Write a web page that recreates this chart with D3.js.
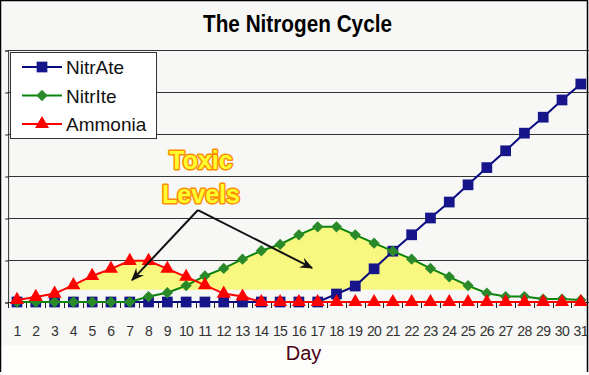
<!DOCTYPE html>
<html lang="en">

<head>
    <meta charset="UTF-8">
    <title>The Nitrogen Cycle</title>
    <script src="https://d3js.org/d3.v7.min.js"></script>
    <style>
        body { margin: 0; background: #fff; }
        text { font-family: Arial, "Liberation Sans", sans-serif; }
    </style>
</head>

<body>
    <script>
        var days = d3.range(1, 32);
        var nitrate = [0, 0, 0, 0, 0, 0, 0, 0, 0, 0, 0, 0, 0, 0, 0, 0, 0,
            0.19, 0.38, 0.79, 1.21, 1.6, 2.0, 2.38, 2.79, 3.2, 3.6, 4.02, 4.4, 4.81, 5.19];
        var nitrite = [0, 0, 0, 0, 0, 0, 0,
            0.13, 0.22, 0.39, 0.62, 0.8, 1.02, 1.22, 1.37, 1.6, 1.79, 1.79, 1.6, 1.4, 1.21,
            1.02, 0.8, 0.6, 0.39, 0.21, 0.13, 0.13, 0.07, 0.07, 0.05];
        var ammonia = [0.05, 0.12, 0.2, 0.4, 0.62, 0.79, 0.98, 0.98, 0.79, 0.6, 0.4, 0.2, 0.13,
            0, 0, 0, 0, 0, 0, 0, 0, 0, 0, 0, 0, 0, 0, 0, 0, 0, 0];
        var seriesNames = ["NitrAte", "NitrIte", "Ammonia"];
        var toxicLevel = 0.29;
        // annotation: label + arrows, in day / value units
        var noteStart = [10.63, 2.19];
        var noteTips = [[7.12, 0.52], [16.7, 0.81]];

        var width = 589, height = 375;
        var svg = d3.select("body").append("svg")
            .attr("width", width)
            .attr("height", height);

        var x = d3.scaleLinear().domain([0.5, 31.5]).range([7.6, 590.2]);
        var y = d3.scaleLinear().domain([0, 6]).range([302, 50]);

        svg.append("rect")
            .attr("x", 0).attr("y", 0)
            .attr("width", 588).attr("height", 345)
            .attr("fill", "#f7f8f5");
        svg.append("rect")
            .attr("x", 0).attr("y", 345)
            .attr("width", 588).attr("height", 30)
            .attr("fill", "#fdfdfc");
        svg.append("path")
            .attr("d", "M0.5,372V0.5H587.5V372")
            .attr("fill", "none")
            .attr("stroke", "#000")
            .attr("stroke-width", 1.5);

        svg.append("text")
            .attr("x", 297.5).attr("y", 31.5)
            .attr("text-anchor", "middle")
            .attr("font-size", 23)
            .attr("font-weight", "bold")
            .attr("textLength", 189)
            .attr("lengthAdjust", "spacingAndGlyphs")
            .text("The Nitrogen Cycle");

        // gridlines
        svg.append("g")
            .selectAll("line")
            .data(d3.range(1, 7))
            .join("line")
            .attr("x1", x(0.5)).attr("x2", width)
            .attr("y1", d => y(d) + 0.5).attr("y2", d => y(d) + 0.5)
            .attr("stroke", "#333")
            .attr("stroke-width", 1);

        // y axis
        svg.append("g")
            .attr("transform", "translate(" + (x(0.5) + 0.5) + ",0.5)")
            .call(d3.axisLeft(y).ticks(6).tickSize(3).tickFormat(""))
            .call(g => g.select(".domain").attr("stroke", "#333"))
            .call(g => g.selectAll(".tick line").attr("stroke", "#333"));

        // yellow toxic regions
        svg.append("clipPath").attr("id", "toxic")
            .append("rect")
            .attr("x", 0).attr("y", 0)
            .attr("width", width).attr("height", y(toxicLevel));
        var area = d3.area()
            .x((d, i) => x(days[i]))
            .y0(y(0))
            .y1(d => y(d));
        svg.append("g")
            .attr("clip-path", "url(#toxic)")
            .selectAll("path")
            .data([ammonia, nitrite])
            .join("path")
            .attr("d", area)
            .attr("fill", "#f8f880");

        // x axis
        svg.append("line")
            .attr("x1", x(0.5)).attr("x2", width)
            .attr("y1", y(0) + 0.5).attr("y2", y(0) + 0.5)
            .attr("stroke", "#222");
        svg.append("g")
            .selectAll("line")
            .data(d3.range(0.5, 32, 1))
            .join("line")
            .attr("x1", d => Math.round(x(d)) + 0.5).attr("x2", d => Math.round(x(d)) + 0.5)
            .attr("y1", y(0)).attr("y2", y(0) + 6)
            .attr("stroke", "#222");
        svg.append("g")
            .selectAll("text")
            .data(days)
            .join("text")
            .attr("x", d => x(d))
            .attr("y", 336)
            .attr("text-anchor", "middle")
            .attr("font-size", 14)
            .attr("letter-spacing", -0.6)
            .attr("fill", "#333")
            .text(d => d);
        svg.append("text")
            .attr("x", 303.5).attr("y", 360)
            .attr("text-anchor", "middle")
            .attr("font-size", 20)
            .attr("fill", "#4a0010")
            .text("Day");

        // square, diamond (rotated square), triangle
        var symbols = [d3.symbolSquare, d3.symbolSquare, d3.symbolTriangle];
        var symSize = [115, 64, 85];
        var symRotate = [0, 45, 0];
        var lineColors = ["#0a0a80", "#0c840c", "#ff0000"];
        var markColors = ["#16168a", "#2a8a2a", "#ff0000"];
        var line = d3.line().x((d, i) => x(days[i])).y(d => y(d));

        [nitrate, nitrite, ammonia].forEach(function (values, k) {
            var g = svg.append("g");
            g.append("path")
                .attr("d", line(values))
                .attr("fill", "none")
                .attr("stroke", lineColors[k])
                .attr("stroke-width", 2);
            g.selectAll("path.mark")
                .data(values)
                .join("path")
                .attr("class", "mark")
                .attr("transform", (d, i) => "translate(" + x(days[i]) + "," + y(d) + ") rotate(" + symRotate[k] + ")")
                .attr("d", d3.symbol().type(symbols[k]).size(symSize[k]))
                .attr("fill", markColors[k]);
        });

        // arrows
        svg.append("defs").append("marker")
            .attr("id", "head")
            .attr("viewBox", "0 0 12 10")
            .attr("refX", 11).attr("refY", 5)
            .attr("markerWidth", 13).attr("markerHeight", 11)
            .attr("markerUnits", "userSpaceOnUse")
            .attr("orient", "auto")
            .append("path")
            .attr("d", "M0,0L12,5L0,10L4,5Z")
            .attr("fill", "#111");
        svg.append("g")
            .selectAll("line")
            .data(noteTips)
            .join("line")
            .attr("x1", x(noteStart[0])).attr("y1", y(noteStart[1]))
            .attr("x2", d => x(d[0])).attr("y2", d => y(d[1]))
            .attr("stroke", "#111")
            .attr("stroke-width", 2)
            .attr("marker-end", "url(#head)");

        svg.append("g")
            .selectAll("text")
            .data([["Toxic", 3.17], ["Levels", 2.36]])
            .join("text")
            .attr("x", x(10.79))
            .attr("y", d => y(d[1]))
            .attr("text-anchor", "middle")
            .attr("font-family", "'DejaVu Sans', sans-serif")
            .attr("font-weight", "bold")
            .attr("font-size", 25)
            .attr("fill", "#ffff30")
            .attr("stroke", "#ff8c00")
            .attr("stroke-width", 3)
            .attr("stroke-linejoin", "round")
            .attr("paint-order", "stroke")
            .text(d => d[0]);

        // legend
        var legend = svg.append("g").attr("transform", "translate(10,52)");
        legend.append("rect")
            .attr("x", 0.5).attr("y", 0.5)
            .attr("width", 146).attr("height", 86)
            .attr("fill", "#fff")
            .attr("stroke", "#333");
        var item = legend.selectAll("g.item")
            .data(seriesNames)
            .join("g")
            .attr("class", "item")
            .attr("transform", (d, i) => "translate(0," + (15 + i * 28.5) + ")");
        item.append("line")
            .attr("x1", 12).attr("x2", 52)
            .attr("stroke", (d, i) => lineColors[i])
            .attr("stroke-width", 2);
        item.append("path")
            .attr("transform", (d, i) => "translate(32,0) rotate(" + symRotate[i] + ")")
            .attr("d", (d, i) => d3.symbol().type(symbols[i]).size(symSize[i])())
            .attr("fill", (d, i) => markColors[i]);
        item.append("text")
            .attr("x", 56).attr("y", 7)
            .attr("font-size", 19)
            .attr("fill", "#111")
            .text(d => d);
    </script>
</body>

</html>
